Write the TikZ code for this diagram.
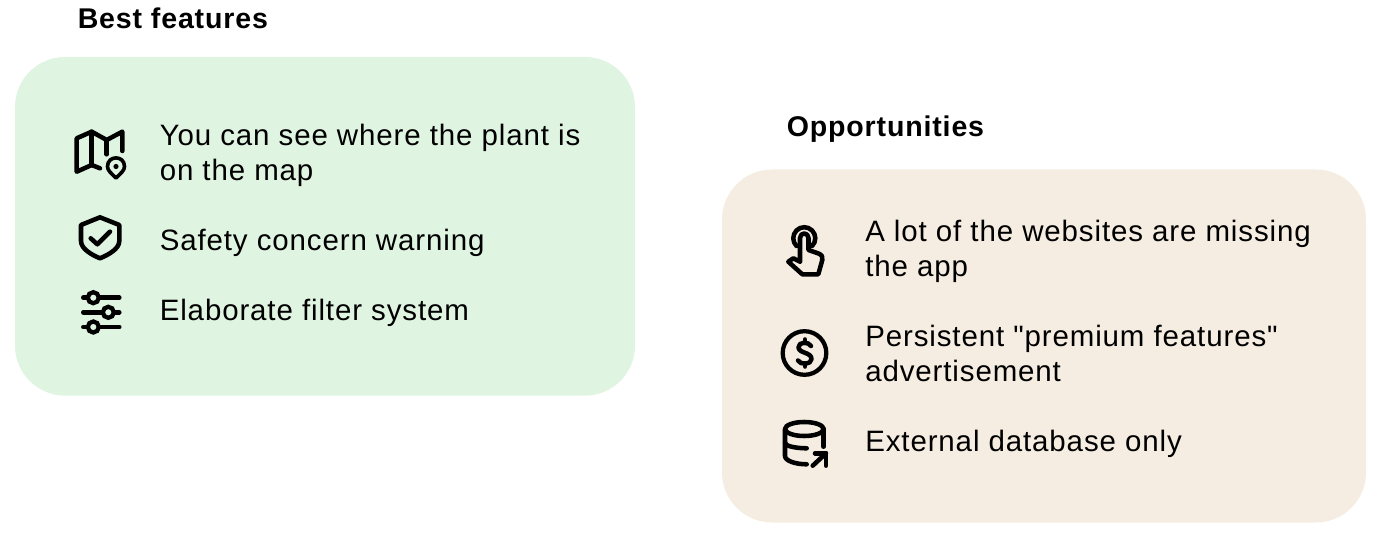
\documentclass[tikz,border=0pt]{standalone}
\usepackage{fontspec}
\newfontfamily\labelfont[LetterSpace=3]{Liberation Sans}
\definecolor{bestgreen}{HTML}{E0F4E2}
\definecolor{oppbeige}{HTML}{F5EDE1}
\tikzset{
  panel/.style={inner sep=0pt, outer sep=0pt, rounded corners=37.5pt},
  heading/.style={anchor=base west, inner sep=0pt, font=\labelfont\fontsize{21.4}{25}\selectfont\bfseries},
  item/.style={anchor=west, inner sep=0pt, align=left, font=\labelfont\fontsize{22.1}{26.25}\selectfont},
  iconline/.style={line width=3.4pt, line cap=round, line join=round},
}
\begin{document}
\begin{tikzpicture}[x=0.75pt,y=-0.75pt]
  \useasboundingbox (0,0) rectangle (1381,534);
  % panels
  \node[panel, fill=bestgreen, minimum width=465pt, minimum height=254pt] (best) at (325,226.3) {};
  \node[panel, fill=oppbeige, minimum width=483pt, minimum height=264.75pt] (opp) at (1044,346) {};
  % headings
  \node[heading] (besttitle) at (77.5,29) {Best features};
  \node[heading] (opptitle) at (786.5,137) {Opportunities};
  % left texts
  \node[item] (plant) at (159.5,155) {You can see where the plant is\\on the map};
  \node[item] (safety) at (159.5,242.5) {Safety concern warning};
  \node[item] (filter) at (159.5,312.5) {Elaborate filter system};
  % right texts
  \node[item] (websites) at (865,251) {A lot of the websites are missing\\the app};
  \node[item] (premium) at (865,353) {Persistent "premium features"\\advertisement};
  \node[item] (database) at (865,443.5) {External database only};
  % map icon
  \draw[iconline] (100,168.3) -- (91.7,165) -- (76.7,171.7) -- (76.7,138.3) -- (91.7,131.7)
    -- (106.7,140) -- (122.3,131.7) -- (122.3,151);
  \draw[iconline] (91.7,131.7) -- (91.7,165);
  \draw[iconline] (106.7,140) -- (106.7,154.3);
  \draw[line width=2.7pt, line join=round] (116,178) .. controls (111,173) and (107.5,170.5) .. (107.5,166.5)
    .. controls (107.5,155) and (124.5,155) .. (124.5,166.5) .. controls (124.5,170.5) and (121,173) .. cycle;
  \fill (116,166.5) circle (2.6);
  % shield icon
  \draw[iconline] (100,217.3) -- (119.3,225) -- (119.3,241) .. controls (119.3,249) and (108,255) .. (100,258.3)
    .. controls (92,255) and (81,249) .. (81,241) -- (81,225) -- cycle;
  \draw[iconline] (90.7,238.3) -- (97.3,244.3) -- (110,231.7);
  % slider icon
  \draw[iconline] (83.3,297.7) -- (119.3,297.7);
  \draw[iconline] (83.3,312.3) -- (119.3,312.3);
  \draw[iconline] (83.3,327) -- (119.3,327);
  \draw[line width=3.2pt, fill=bestgreen] (93.3,297.7) circle (5.5);
  \draw[line width=3.2pt, fill=bestgreen] (108.3,312.3) circle (5.5);
  \draw[line width=3.2pt, fill=bestgreen] (93.3,327) circle (5.5);
  % hand icon
  \draw[iconline] (796.5,246) arc[start angle=135, end angle=405, radius=11];
  \draw[iconline] (800,261.7) -- (800,238) .. controls (800,232) and (808.5,232) .. (808.5,238) -- (808.5,250)
    -- (818.5,253.5) .. controls (822,255) and (823,257) .. (822.3,260) -- (818.3,274.3) -- (802.3,274.3)
    -- (788.3,261.7) -- (793.3,258.3) -- (800,261.7);
  % dollar icon
  \draw[line width=3.2pt] (804.5,353) circle (21.8);
  \draw[iconline] (811,346) .. controls (809,341.5) and (798,341.5) .. (798.5,347.5)
    .. controls (799,353.5) and (811.5,352) .. (811.5,359) .. controls (811.5,365) and (800,365) .. (798,360.5);
  \draw[iconline] (805,339.5) -- (805,342.5);
  \draw[iconline] (805,363.5) -- (805,366.5);
  % database icon
  \draw[iconline] (804.3,429) ellipse (19.3 and 7);
  \draw[iconline] (785,429) -- (785,456) .. controls (785,461) and (796,464.3) .. (806.7,464.3);
  \draw[iconline] (785,443) .. controls (785,446) and (796,448.3) .. (806.7,448.3);
  \draw[iconline] (823.6,429) -- (823.6,446.7);
  \draw[iconline] (812.7,465.7) -- (826,453.3);
  \draw[iconline] (815,453.3) -- (826,453.3) -- (826,465.7);
\end{tikzpicture}
\end{document}
